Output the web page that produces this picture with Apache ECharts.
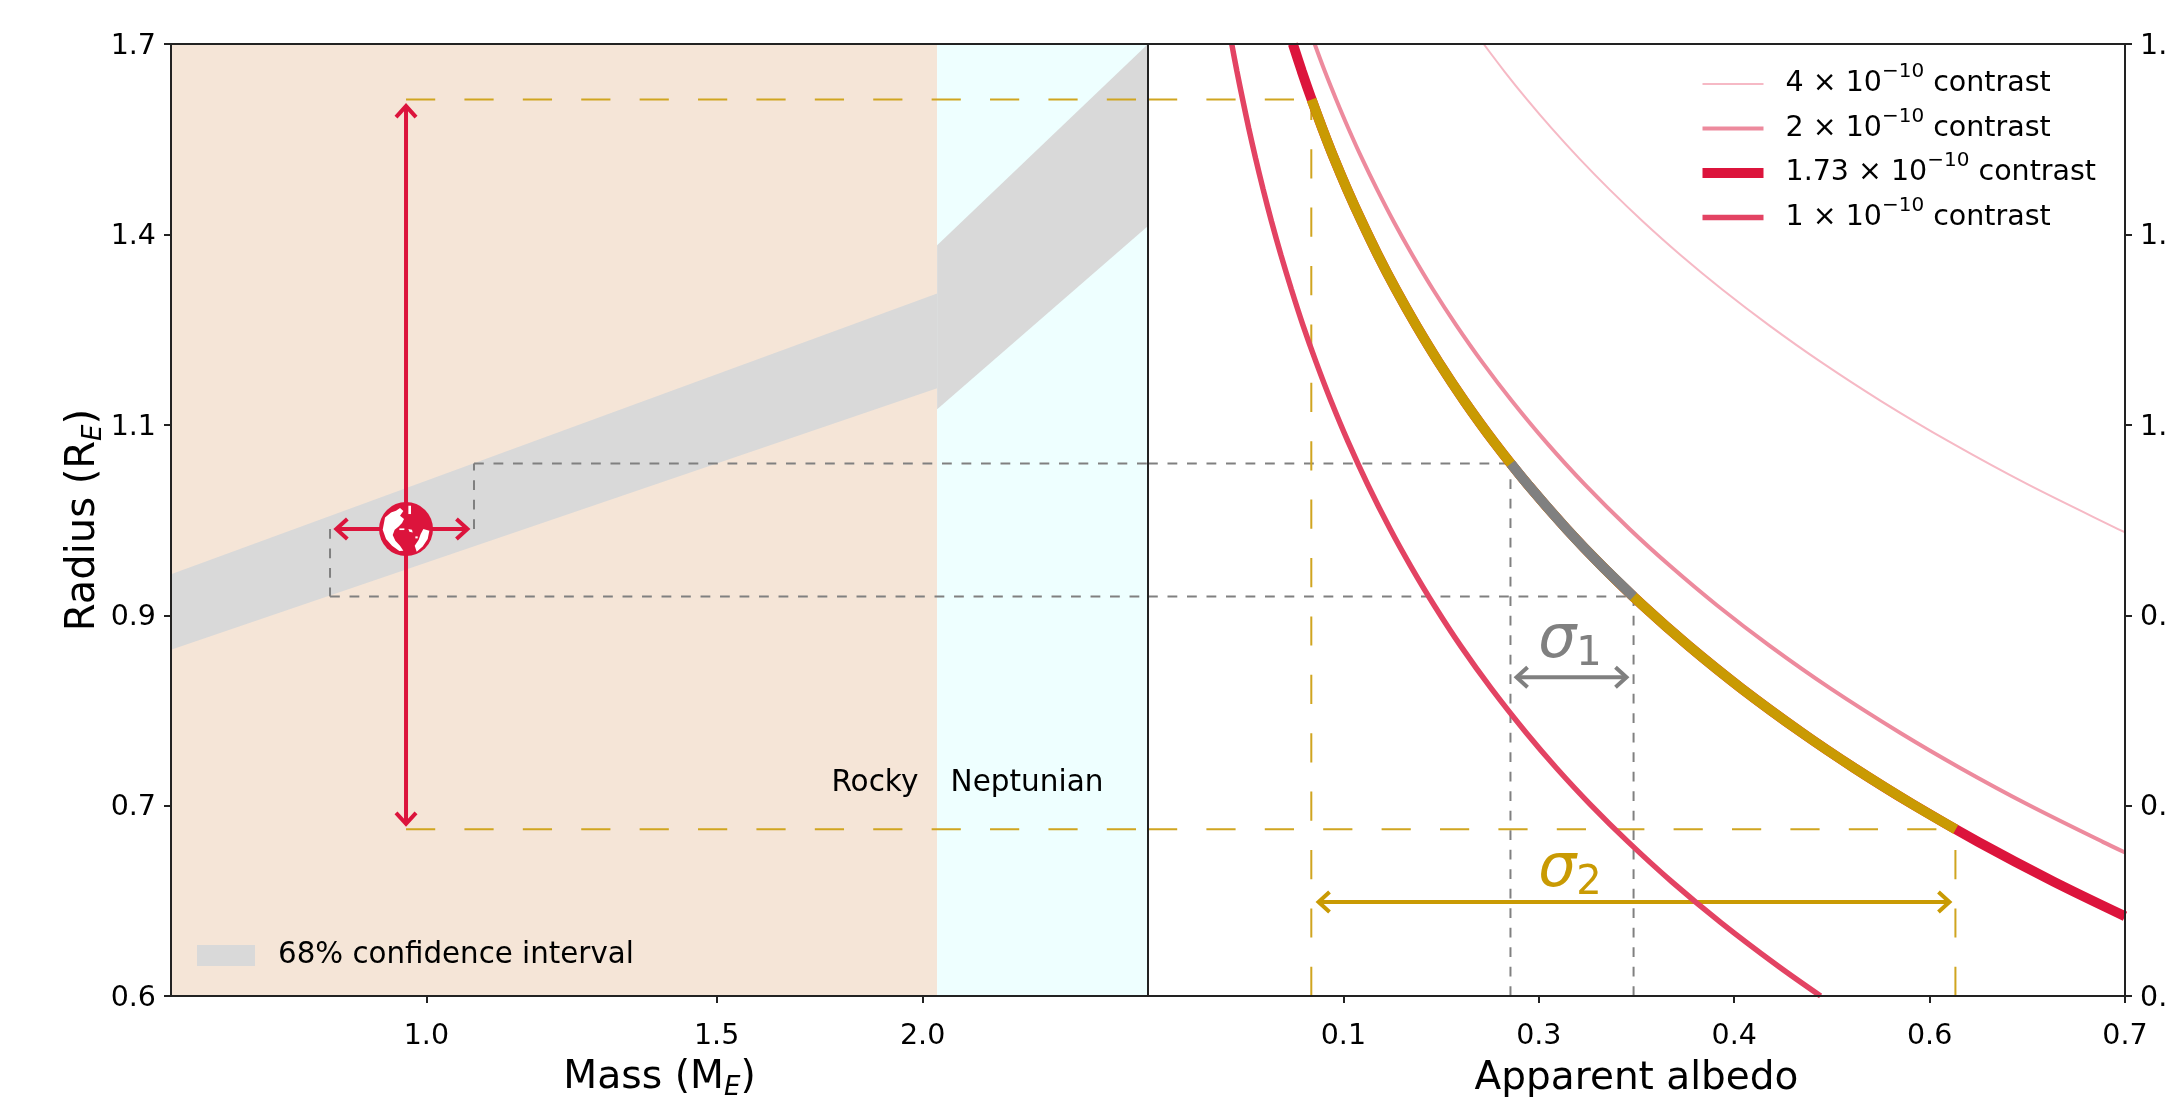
<!DOCTYPE html>
<html>
<head>
<meta charset="utf-8">
<style>html,body{margin:0;padding:0;background:#fff}#c{width:2168px;height:1098px}</style>
<script src="https://cdn.jsdelivr.net/npm/echarts@6/dist/echarts.min.js"></script>
</head>
<body>
<div id="c"></div>
<script>
// ---- axes
const massRange = [0.7, 2.74];
const radiusRange = [0.6, 1.7];
const albedoRange = [0, 0.7];
const massTicks = [1.0, 1.5, 2.0];
const radiusTicks = [0.6, 0.7389, 0.91, 1.1207, 1.3802, 1.7];
const albedoTicks = [0.14, 0.28, 0.42, 0.56, 0.7];

// ---- contrast curves (radius, albedo)
const radiusNodes = [1.7, 1.65, 1.6, 1.55, 1.5, 1.45, 1.4, 1.35, 1.3, 1.25, 1.2, 1.15, 1.1, 1.05, 1.0, 0.96, 0.92, 0.88, 0.84, 0.8, 0.77, 0.74, 0.71, 0.68, 0.65, 0.62, 0.6];
const albedo1e10 = [0.0600, 0.0637, 0.0678, 0.0722, 0.0771, 0.0825, 0.0885, 0.0952, 0.1027, 0.1110, 0.1205, 0.1312, 0.1434, 0.1574, 0.1735, 0.1883, 0.2050, 0.2240, 0.2459, 0.2711, 0.2926, 0.3168, 0.3442, 0.3752, 0.4107, 0.4514, 0.4819];
const radius2e10 = [1.7, 1.65, 1.6, 1.55, 1.5, 1.45, 1.4, 1.35, 1.3, 1.25, 1.2, 1.15, 1.1, 1.05, 1.0, 0.96, 0.92, 0.88, 0.84, 0.8, 0.77, 0.74, 0.71, 0.702];
const albedo2e10 = [0.1194, 0.1267, 0.1348, 0.1436, 0.1533, 0.1641, 0.1760, 0.1893, 0.2041, 0.2208, 0.2396, 0.2609, 0.2851, 0.3129, 0.3450, 0.3744, 0.4076, 0.4455, 0.4889, 0.5391, 0.5819, 0.6300, 0.6844, 0.70];
const radius4e10 = [1.7, 1.65, 1.6, 1.55, 1.5, 1.45, 1.4, 1.35, 1.3, 1.25, 1.2, 1.15, 1.1, 1.05, 1.0, 0.9965];
const albedo4e10 = [0.2405, 0.2553, 0.2715, 0.2893, 0.3089, 0.3306, 0.3546, 0.3813, 0.4112, 0.4448, 0.4826, 0.5255, 0.5744, 0.6304, 0.6950, 0.70];
const radius173 = [1.7, 1.65, 1.6, 1.55, 1.5, 1.45, 1.4, 1.35, 1.3, 1.25, 1.2, 1.15, 1.1, 1.05, 1.0, 0.96, 0.92, 0.88, 0.84, 0.8, 0.77, 0.74, 0.71, 0.68, 0.6547];
const albedo173 = [0.1038, 0.1102, 0.1172, 0.1249, 0.1333, 0.1427, 0.1531, 0.1646, 0.1775, 0.1920, 0.2083, 0.2268, 0.2479, 0.2721, 0.30, 0.3255, 0.3544, 0.3874, 0.4252, 0.4688, 0.5060, 0.5478, 0.5951, 0.6488, 0.70];
const goldRadius = [1.6, 1.55, 1.5, 1.45, 1.4, 1.35, 1.3, 1.25, 1.2, 1.15, 1.1, 1.05, 1.0, 0.96, 0.92, 0.88, 0.84, 0.8, 0.77, 0.74, 0.72];
const goldAlbedo = [0.1172, 0.1249, 0.1333, 0.1427, 0.1531, 0.1646, 0.1775, 0.1920, 0.2083, 0.2268, 0.2479, 0.2721, 0.30, 0.3255, 0.3544, 0.3874, 0.4252, 0.4688, 0.5060, 0.5478, 0.5787];
const greyRadius = [1.0743, 1.05, 1.0, 0.96, 0.9288];
const greyAlbedo = [0.26, 0.2721, 0.30, 0.3255, 0.3478];

// ---- mass-radius band and regions
const bandSegments = [
  [0.7, 0.8764, 0.9517, 2.041, 1.1664, 1.294],
  [2.041, 1.14, 1.364, 2.74, 1.393, 1.7]
];
const regions = [[0.7, 2.041, 0.6, 1.7], [2.041, 2.74, 0.6, 1.7]];
const regionColors = ['#f5e5d7', '#eeffff'];

// ---- measurement values
const earth = [0.972, 1.0];
const sigma1Mass = [0.8741, 1.0688];
const sigma1Radius = [0.9288, 1.0743];
const sigma1Albedo = [0.2597, 0.3479];
const sigma2Radius = [0.72, 1.6];
const sigma2Albedo = [0.117, 0.5785];
const redArrows = [[0.972, 0.7232, 0.972, 1.591], [0.880, 1.0, 1.0613, 1.0]];
const greyArrow = [[0.2630, 0.8503, 0.3439, 0.8503]];
const goldArrow = [[0.1211, 0.665, 0.5753, 0.665]];

// ---- labels
const regionLabels = [['Rocky', 1.871, 0.757], ['Neptunian', 2.314, 0.757]];
const sigmaLabels = [['{s|σ}{b|1}', 0.3024, 0.8844, '#808080'], ['{s|σ}{b|2}', 0.3024, 0.6884, '#c99a03']];
const legendNames = ['4 × 10⁻¹⁰ contrast', '2 × 10⁻¹⁰ contrast', '1.73 × 10⁻¹⁰ contrast', '1 × 10⁻¹⁰ contrast'];
const legendRich = {
  '4 × 10⁻¹⁰ contrast': '{p| }{a|4 × 10}{u|−10}{a| contrast}',
  '2 × 10⁻¹⁰ contrast': '{p| }{a|2 × 10}{u|−10}{a| contrast}',
  '1.73 × 10⁻¹⁰ contrast': '{p| }{a|1.73 × 10}{u|−10}{a| contrast}',
  '1 × 10⁻¹⁰ contrast': '{p| }{a|1 × 10}{u|−10}{a| contrast}'
};
const bandName = '68% confidence interval';

// ---- style
const FONT = 'DejaVu Sans';
const RED = '#dc143c', GOLD = '#c99a03', GREY = '#808080', GOLD_THIN = '#d0a520', SPINE = '#222';
// land shapes of the Earth glyph, in a 180-unit box around its centre
const land = [
  [[27,55],[45,40],[60,35],[72,27],[82,36],[72,50],[84,60],[78,72],[68,82],[56,92],[50,108],[58,125],[72,140],[82,155],[70,156],[48,140],[30,120],[20,92]],
  [[142,90],[160,95],[155,120],[140,142],[122,158],[116,140],[128,122],[134,105]],
  [[97,20],[105,20],[105,45],[97,45]],
  [[70,88],[85,88],[85,93],[70,93]],
  [[97,90],[108,92],[110,100],[100,98]],
  [[118,112],[125,112],[125,118],[118,118]]
];

const zip = (a, b) => a.map((v, i) => [v, b[i]]);

function curve(name, xs, ys, color, width) {
  return { type: 'line', name, xAxisIndex: 1, yAxisIndex: 1, data: zip(xs, ys), symbol: 'none', showSymbol: false,
    smooth: 0.3, clip: true, silent: true, animation: false, lineStyle: { color, width, cap: 'butt' }, itemStyle: { color } };
}
function dashed(name, xs, ys, panel, color, dash, width) {
  return { type: 'line', name, xAxisIndex: panel, yAxisIndex: panel, data: zip(xs, ys), symbol: 'none', showSymbol: false,
    clip: true, silent: true, animation: false, lineStyle: { color, width, type: dash, cap: 'butt' } };
}
const goldDash = (name, xs, ys, panel) => dashed(name, xs, ys, panel, GOLD_THIN, [29.2, 29.2], 2);
const greyDash = (name, xs, ys, panel) => dashed(name, xs, ys, panel, GREY, [9.8, 9.7], 2);

function arrowSeries(name, rows, panel, color, width) {
  return { type: 'custom', name, coordinateSystem: 'cartesian2d', xAxisIndex: panel, yAxisIndex: panel, data: rows,
    silent: true, animation: false,
    renderItem(params, api) {
      const a0 = api.coord([api.value(0), api.value(1)]);
      const b0 = api.coord([api.value(2), api.value(3)]);
      const d = Math.hypot(b0[0] - a0[0], b0[1] - a0[1]);
      const ux = (b0[0] - a0[0]) / d, uy = (b0[1] - a0[1]) / d, nx = -uy, ny = ux;
      const a = [a0[0] + 1.5 * ux, a0[1] + 1.5 * uy], b = [b0[0] - 1.5 * ux, b0[1] - 1.5 * uy];
      const style = { stroke: color, lineWidth: width, fill: null, lineJoin: 'miter' };
      const head = (p, s) => ({ type: 'polyline', style,
        shape: { points: [[p[0] - s * 11 * ux + 10 * nx, p[1] - s * 11 * uy + 10 * ny], p, [p[0] - s * 11 * ux - 10 * nx, p[1] - s * 11 * uy - 10 * ny]] } });
      return { type: 'group', children: [
        { type: 'line', shape: { x1: a[0], y1: a[1], x2: b[0], y2: b[1] }, style },
        head(b, 1), head(a, -1)
      ] };
    } };
}

const option = {
  backgroundColor: '#fff',
  animation: false,
  textStyle: { fontFamily: FONT, color: '#000' },
  grid: [
    { left: 171, top: 44, width: 977, height: 952, containLabel: false, outerBoundsMode: 'none' },
    { left: 1148, top: 44, width: 977, height: 952, containLabel: false, outerBoundsMode: 'none' }
  ],
  xAxis: [
    { gridIndex: 0, type: 'log', logBase: 10, min: massRange[0], max: massRange[1], position: 'bottom', z: 10,
      name: '{a|Mass (M}{e|E}{a|)}', nameLocation: 'middle', nameGap: 59,
      nameTextStyle: { rich: { a: { fontFamily: FONT, fontSize: 39.3, lineHeight: 46, color: '#000' }, e: { fontFamily: FONT, fontSize: 26, fontStyle: 'italic', lineHeight: 20, verticalAlign: 'bottom', color: '#000' } } },
      axisLine: { show: true, onZero: false, lineStyle: { color: SPINE, width: 2 } },
      axisTick: { show: true, length: 7, customValues: massTicks, lineStyle: { color: SPINE, width: 2 } },
      axisLabel: { show: true, customValues: massTicks, margin: 26, fontFamily: FONT, fontSize: 28.5, color: '#000', formatter: v => Number(v).toFixed(1) },
      splitLine: { show: false }, minorTick: { show: false } },
    { gridIndex: 1, type: 'value', min: albedoRange[0], max: albedoRange[1], position: 'bottom', z: 10,
      name: 'Apparent albedo', nameLocation: 'middle', nameGap: 59,
      nameTextStyle: { fontFamily: FONT, fontSize: 39, color: '#000', lineHeight: 46 },
      axisLine: { show: true, onZero: false, lineStyle: { color: SPINE, width: 2 } },
      axisTick: { show: true, length: 7, customValues: albedoTicks, lineStyle: { color: SPINE, width: 2 } },
      axisLabel: { show: true, customValues: albedoTicks, margin: 26, fontFamily: FONT, fontSize: 28.5, color: '#000', formatter: v => Number(v).toFixed(1) },
      splitLine: { show: false } },
    { gridIndex: 0, type: 'value', min: 0, max: 1, position: 'top', z: 10, axisLine: { show: true, onZero: false, lineStyle: { color: SPINE, width: 2 } }, axisTick: { show: false }, axisLabel: { show: false }, splitLine: { show: false } },
    { gridIndex: 1, type: 'value', min: 0, max: 1, position: 'top', z: 10, axisLine: { show: true, onZero: false, lineStyle: { color: SPINE, width: 2 } }, axisTick: { show: false }, axisLabel: { show: false }, splitLine: { show: false } }
  ],
  yAxis: [
    { gridIndex: 0, type: 'log', logBase: 10, min: radiusRange[0], max: radiusRange[1], position: 'left', z: 10,
      name: '{a|Radius (R}{e|E}{a|)}', nameLocation: 'middle', nameGap: 60, nameRotate: 90,
      nameTextStyle: { rich: { a: { fontFamily: FONT, fontSize: 40, lineHeight: 46, color: '#000' }, e: { fontFamily: FONT, fontSize: 26, fontStyle: 'italic', lineHeight: 20, verticalAlign: 'bottom', color: '#000' } } },
      axisLine: { show: true, onZero: false, lineStyle: { color: SPINE, width: 2 } },
      axisTick: { show: true, length: 7, customValues: radiusTicks, lineStyle: { color: SPINE, width: 2 } },
      axisLabel: { show: true, customValues: radiusTicks, margin: 15, verticalAlign: 'top', padding: [-12.25, 0, 0, 0], fontFamily: FONT, fontSize: 28.5, color: '#000', formatter: v => Number(v).toFixed(1) },
      splitLine: { show: false }, minorTick: { show: false } },
    { gridIndex: 1, type: 'log', logBase: 10, min: radiusRange[0], max: radiusRange[1], position: 'right', z: 10,
      axisLine: { show: true, onZero: false, lineStyle: { color: SPINE, width: 2 } },
      axisTick: { show: true, length: 7, customValues: radiusTicks, lineStyle: { color: SPINE, width: 2 } },
      axisLabel: { show: true, customValues: radiusTicks, margin: 15, verticalAlign: 'top', padding: [-12.25, 0, 0, 0], fontFamily: FONT, fontSize: 28.5, color: '#000', formatter: v => Number(v).toFixed(1) },
      splitLine: { show: false }, minorTick: { show: false } },
    { gridIndex: 1, type: 'value', min: 0, max: 1, position: 'left', z: 10, axisLine: { show: true, onZero: false, lineStyle: { color: SPINE, width: 2 } }, axisTick: { show: false }, axisLabel: { show: false }, splitLine: { show: false } }
  ],
  legend: [
    { data: legendNames, orient: 'vertical', left: 1697.5, top: 62, padding: 0, itemGap: 8, itemWidth: 61, itemHeight: 14, selectedMode: false,
      itemStyle: { opacity: 0 }, lineStyle: { width: 'inherit' },
      formatter: n => legendRich[n],
      textStyle: { fontFamily: FONT, rich: {
        p: { width: 17, height: 1 },
        a: { fontFamily: FONT, fontSize: 28.5, lineHeight: 44, color: '#000' },
        u: { fontFamily: FONT, fontSize: 20, lineHeight: 28, verticalAlign: 'top', color: '#000' } } } },
    { data: [bandName], orient: 'vertical', left: 197, top: 941, padding: 0, itemWidth: 58, itemHeight: 21, icon: 'rect', selectedMode: false,
      formatter: n => '{p| }{a|' + n + '}',
      textStyle: { fontFamily: FONT, rich: {
        p: { width: 18, height: 1 },
        a: { fontFamily: FONT, fontSize: 29.3, lineHeight: 34, color: '#000' } } } }
  ],
  series: [
    { type: 'custom', name: 'regions', coordinateSystem: 'cartesian2d', xAxisIndex: 0, yAxisIndex: 0, data: regions, silent: true, animation: false,
      renderItem(params, api) {
        const a = api.coord([api.value(0), api.value(2)]), b = api.coord([api.value(1), api.value(3)]);
        return { type: 'rect', shape: { x: a[0], y: b[1], width: b[0] - a[0], height: a[1] - b[1] }, style: { fill: regionColors[params.dataIndex] } };
      } },
    { type: 'custom', name: bandName, coordinateSystem: 'cartesian2d', xAxisIndex: 0, yAxisIndex: 0, data: bandSegments, silent: true, animation: false,
      itemStyle: { color: '#d9d9d9' },
      renderItem(params, api) {
        const pts = [[api.value(0), api.value(1)], [api.value(3), api.value(4)], [api.value(3), api.value(5)], [api.value(0), api.value(2)]].map(p => api.coord(p));
        return { type: 'polygon', shape: { points: pts }, style: { fill: '#d9d9d9' } };
      } },

    greyDash('grey lower drop', [sigma1Mass[0], sigma1Mass[0]], [earth[1], sigma1Radius[0]], 0),
    greyDash('grey lower left', [sigma1Mass[0], massRange[1]], [sigma1Radius[0], sigma1Radius[0]], 0),
    greyDash('grey upper rise', [sigma1Mass[1], sigma1Mass[1]], [earth[1], sigma1Radius[1]], 0),
    greyDash('grey upper left', [sigma1Mass[1], massRange[1]], [sigma1Radius[1], sigma1Radius[1]], 0),
    greyDash('grey lower right', [0, sigma1Albedo[1]], [sigma1Radius[0], sigma1Radius[0]], 1),
    greyDash('grey upper right', [0, sigma1Albedo[0]], [sigma1Radius[1], sigma1Radius[1]], 1),
    greyDash('grey v1', [sigma1Albedo[0], sigma1Albedo[0]], [radiusRange[0], sigma1Radius[1]], 1),
    greyDash('grey v2', [sigma1Albedo[1], sigma1Albedo[1]], [radiusRange[0], sigma1Radius[0]], 1),

    goldDash('gold top left', [earth[0], massRange[1]], [sigma2Radius[1], sigma2Radius[1]], 0),
    goldDash('gold bottom left', [earth[0], massRange[1]], [sigma2Radius[0], sigma2Radius[0]], 0),
    goldDash('gold top right', [0, sigma2Albedo[0]], [sigma2Radius[1], sigma2Radius[1]], 1),
    goldDash('gold bottom right', [0, sigma2Albedo[1]], [sigma2Radius[0], sigma2Radius[0]], 1),
    goldDash('gold v1', [sigma2Albedo[0], sigma2Albedo[0]], [radiusRange[0], sigma2Radius[1]], 1),
    goldDash('gold v2', [sigma2Albedo[1], sigma2Albedo[1]], [radiusRange[0], sigma2Radius[0]], 1),

    curve(legendNames[0], albedo4e10, radius4e10, '#f6b9c5', 2),
    curve(legendNames[1], albedo2e10, radius2e10, '#ed8a9d', 4),
    curve(legendNames[2], albedo173, radius173, RED, 10),
    curve(legendNames[3], albedo1e10, radiusNodes, '#e34363', 5.5),
    curve('sigma 2 segment', goldAlbedo, goldRadius, GOLD, 10),
    curve('sigma 1 segment', greyAlbedo, greyRadius, GREY, 10),

    arrowSeries('mass-radius arrows', redArrows, 0, RED, 4),
    arrowSeries('sigma 1 arrow', greyArrow, 1, GREY, 4),
    arrowSeries('sigma 2 arrow', goldArrow, 1, GOLD, 4),

    { type: 'custom', name: 'Earth', coordinateSystem: 'cartesian2d', xAxisIndex: 0, yAxisIndex: 0, data: [earth], silent: true, animation: false, z: 5,
      renderItem(params, api) {
        const c = api.coord([api.value(0), api.value(1)]);
        const children = [{ type: 'circle', shape: { cx: c[0], cy: c[1], r: 27 }, style: { fill: RED } }];
        land.forEach(poly => children.push({ type: 'polygon',
          shape: { points: poly.map(p => [c[0] + (p[0] - 90) / 3, c[1] + (p[1] - 90) / 3]) }, style: { fill: '#fff' } }));
        return { type: 'group', children };
      } },

    { type: 'custom', name: 'region labels', coordinateSystem: 'cartesian2d', xAxisIndex: 0, yAxisIndex: 0,
      data: regionLabels.map(r => [r[1], r[2]]), silent: true, animation: false, z: 6,
      renderItem(params, api) {
        const c = api.coord([api.value(0), api.value(1)]);
        return { type: 'text', x: c[0], y: c[1], style: { text: regionLabels[params.dataIndex][0], fontFamily: FONT, fontSize: 29.5, fill: '#000', align: 'center', verticalAlign: 'middle' } };
      } },
    { type: 'custom', name: 'sigma labels', coordinateSystem: 'cartesian2d', xAxisIndex: 1, yAxisIndex: 1,
      data: sigmaLabels.map(r => [r[1], r[2]]), silent: true, animation: false, z: 6,
      renderItem(params, api) {
        const c = api.coord([api.value(0), api.value(1)]);
        const col = sigmaLabels[params.dataIndex][3];
        return { type: 'text', x: c[0], y: c[1], style: { text: sigmaLabels[params.dataIndex][0], align: 'center', verticalAlign: 'middle',
          rich: { s: { fontFamily: FONT, fontSize: 60, fontStyle: 'italic', fill: col, lineHeight: 66 },
                  b: { fontFamily: FONT, fontSize: 40, fill: col, lineHeight: 35, verticalAlign: 'bottom' } } } };
      } }
  ]
};
const chart = echarts.init(document.getElementById('c'), null, { renderer: 'canvas', width: 2168, height: 1098 });
chart.setOption(option);
</script>
</body>
</html>
